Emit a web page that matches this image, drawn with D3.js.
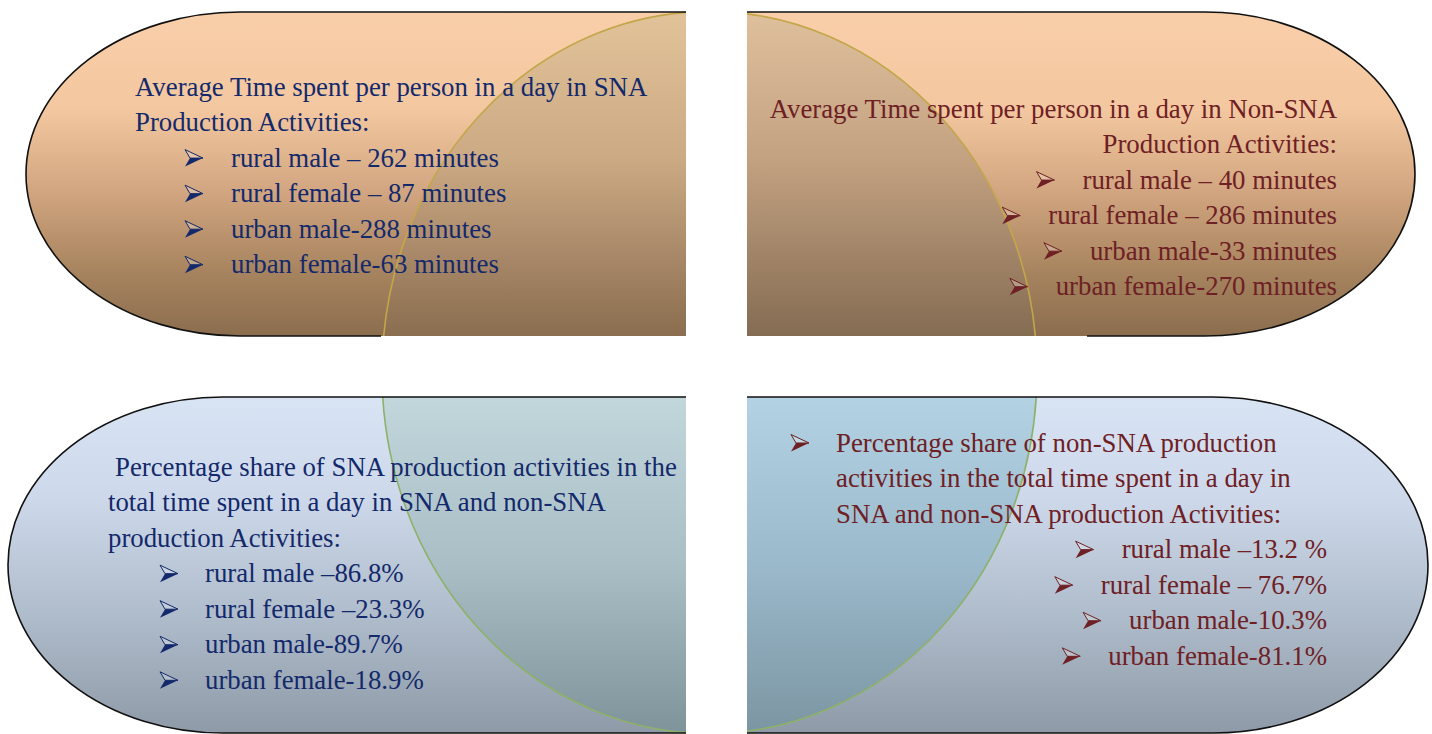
<!DOCTYPE html>
<html>
<head>
<meta charset="utf-8">
<script src="https://cdn.jsdelivr.net/npm/d3@7"></script>
<style>
  html, body { margin: 0; padding: 0; background: #fff; overflow: hidden; }
  text { font-family: "Liberation Serif", "Times New Roman", serif; }
</style>
</head>
<body>
<svg id="chart" width="1432" height="734"></svg>
<script>
// data
const categories = ["rural male", "rural female", "urban male", "urban female"];
const snaMinutes = [262, 87, 288, 63];
const nonSnaMinutes = [40, 286, 33, 270];
const snaShare = [86.8, 23.3, 89.7, 18.9];
const nonSnaShare = [13.2, 76.7, 10.3, 81.1];

// separators / units exactly as typed in the original
const snaMinuteSeps = [" – ", " – ", "-", "-"];
const nonSnaMinuteSeps = [" – ", " – ", "-", "-"];
const snaShareSeps = [" –", " –", "-", "-"];
const nonSnaShareSeps = [" –", " – ", "-", "-"];
const nonSnaShareUnits = [" %", "%", "%", "%"];

const titleSnaMinutes = ["Average Time spent per person in a day in SNA", "Production Activities:"];
const titleNonSnaMinutes = ["Average Time spent per person in a day in Non-SNA", "Production Activities:"];
const titleSnaShare = ["Percentage share of SNA production activities in the", "total time spent in a day in SNA and non-SNA", "production Activities:"];
const titleNonSnaShare = ["Percentage share of non-SNA production", "activities in the total time spent in a day in", "SNA and non-SNA production Activities:"];

const svg = d3.select('#chart');
const defs = svg.append('defs');

const NAVY = '#13296b', MAROON = '#6e2024';
const FS = 26.8, LH = 35.55;

function vGrad(id, stops) {
  const g = defs.append('linearGradient').attr('id', id)
    .attr('x1', 0).attr('y1', 0).attr('x2', 0).attr('y2', 1);
  stops.forEach(s => g.append('stop').attr('offset', s[0]).attr('stop-color', s[1]));
}
vGrad('peach', [[0, '#f9cfaa'], [0.3, '#f3c79f'], [0.55, '#d2a680'], [0.8, '#a7845f'], [1, '#8b6d4e']]);
vGrad('sky', [[0, '#d8e4f4'], [0.3, '#cdd9ea'], [0.65, '#afbccb'], [1, '#8e9aa7']]);
vGrad('ovTL', [[0, '#e2c399'], [0.45, '#ccaa84'], [0.75, '#a88868'], [1, '#8a6e4f']]);
vGrad('ovTR', [[0, '#dfc09c'], [0.45, '#c3a281'], [0.75, '#a18468'], [1, '#846c52']]);
vGrad('ovBL', [[0, '#c2d7dc'], [0.5, '#a9bec5'], [1, '#7e939a']]);
vGrad('ovBR', [[0, '#b3d2e3'], [0.5, '#9ab9cb'], [1, '#7c95a2']]);

// half-stadium shapes
const quads = [
  { id: 'TL', x0: 26, x1: 686, y0: 12, y1: 336, rx: 214, side: 'left', fill: 'url(#peach)', cut: 381 },
  { id: 'TR', x0: 747, x1: 1415, y0: 12, y1: 336, rx: 210, side: 'right', fill: 'url(#peach)', cut: 1087 },
  { id: 'BL', x0: 8, x1: 686, y0: 397, y1: 733, rx: 215, side: 'left', fill: 'url(#sky)', cut: 686 },
  { id: 'BR', x0: 747, x1: 1428, y0: 397, y1: 733, rx: 215, side: 'right', fill: 'url(#sky)', cut: 747 }
];

function shapePath(q, closed) {
  const ry = (q.y1 - q.y0) / 2;
  let s;
  if (q.side === 'left') {
    const cx = q.x0 + q.rx;
    s = `M${q.x1},${q.y0}L${cx},${q.y0}A${q.rx},${ry} 0 0 0 ${cx},${q.y1}L${closed ? q.x1 : q.cut},${q.y1}`;
  } else {
    const cx = q.x1 - q.rx;
    s = `M${q.x0},${q.y0}L${cx},${q.y0}A${q.rx},${ry} 0 0 1 ${cx},${q.y1}L${closed ? q.x0 : q.cut},${q.y1}`;
  }
  return closed ? s + 'Z' : s;
}

svg.selectAll('path.shape').data(quads).enter().append('path')
  .attr('class', 'shape')
  .attr('d', q => shapePath(q, true))
  .attr('fill', q => q.fill);

// central ellipse, split into quadrants by the white cross
const ell = { cx: 709.5, cy: 372.5, rx: 327.5, ry: 361 };
const clipRects = {
  TL: [0, 0, 686, 336], TR: [747, 0, 700, 336],
  BL: [0, 397, 686, 340], BR: [747, 397, 700, 340]
};
Object.entries(clipRects).forEach(([k, r]) => {
  defs.append('clipPath').attr('id', 'clip' + k).append('rect')
    .attr('x', r[0]).attr('y', r[1]).attr('width', r[2]).attr('height', r[3]);
});
const ovColors = { TL: '#c3a64a', TR: '#c3a64a', BL: '#8db169', BR: '#8db169' };
Object.keys(clipRects).forEach(k => {
  const g = svg.append('g').attr('clip-path', `url(#clip${k})`);
  // gradient box sized to the quadrant so the vertical stops line up
  defs.select('#ov' + k).attr('gradientUnits', 'userSpaceOnUse')
    .attr('x1', 0).attr('x2', 0)
    .attr('y1', k[0] === 'T' ? 12 : 397).attr('y2', k[0] === 'T' ? 336 : 733);
  g.append('ellipse')
    .attr('cx', ell.cx).attr('cy', ell.cy).attr('rx', ell.rx).attr('ry', ell.ry)
    .attr('fill', `url(#ov${k})`)
    .attr('stroke', ovColors[k]).attr('stroke-width', 1.6);
});

// borders
svg.selectAll('path.border').data(quads).enter().append('path')
  .attr('class', 'border')
  .attr('d', q => shapePath(q, false))
  .attr('fill', 'none').attr('stroke', '#111').attr('stroke-width', 1.6);

// 3D arrowhead bullet
function arrow(g, x, base, color) {
  const t = base - 17, m = base - 8.5, b = base;
  g.append('path').attr('d', `M${x},${t}L${x + 18},${m}L${x + 5},${m}Z`)
    .attr('fill', 'rgba(255,255,255,0.25)').attr('stroke', color).attr('stroke-width', 1)
    .attr('stroke-linejoin', 'round');
  g.append('path').attr('d', `M${x + 5},${m}L${x + 18},${m}L${x},${b}Z`)
    .attr('fill', color);
}

function textLine(g, str, x, y, color, anchor) {
  return g.append('text').attr('x', x).attr('y', y)
    .attr('font-size', FS).attr('fill', color)
    .attr('text-anchor', anchor || 'start').text(str);
}

function itemStrings(vals, seps, units) {
  return categories.map((c, i) => c + seps[i] + vals[i] + units[i]);
}

const g = svg.append('g');

// top-left: SNA minutes
{
  const y = d3.scaleLinear().domain([0, 1]).range([95.5, 95.5 + LH]);
  titleSnaMinutes.forEach((t, i) => textLine(g, t, 135, y(i), NAVY));
  itemStrings(snaMinutes, snaMinuteSeps, [" minutes", " minutes", " minutes", " minutes"])
    .forEach((s, i) => {
      arrow(g, 185, y(i + 2), NAVY);
      textLine(g, s, 231, y(i + 2), NAVY);
    });
}

// top-right: non-SNA minutes (right aligned)
{
  const y = d3.scaleLinear().domain([0, 1]).range([117.5, 117.5 + LH]);
  const right = 1337;
  titleNonSnaMinutes.forEach((t, i) => textLine(g, t, right, y(i), MAROON, 'end'));
  itemStrings(nonSnaMinutes, nonSnaMinuteSeps, [" minutes", " minutes", " minutes", " minutes"])
    .forEach((s, i) => {
      const tx = textLine(g, s, right, y(i + 2), MAROON, 'end');
      const w = tx.node().getComputedTextLength();
      arrow(g, right - w - 46, y(i + 2), MAROON);
    });
}

// bottom-left: SNA share
{
  const y = d3.scaleLinear().domain([0, 1]).range([475.5, 475.5 + LH]);
  titleSnaShare.forEach((t, i) => textLine(g, t, i === 0 ? 115 : 108, y(i), NAVY));
  itemStrings(snaShare, snaShareSeps, ["%", "%", "%", "%"])
    .forEach((s, i) => {
      arrow(g, 160, y(i + 3), NAVY);
      textLine(g, s, 205, y(i + 3), NAVY);
    });
}

// bottom-right: non-SNA share
{
  const y = d3.scaleLinear().domain([0, 1]).range([451.5, 451.5 + LH]);
  arrow(g, 791, y(0), MAROON);
  titleNonSnaShare.forEach((t, i) => textLine(g, t, 836, y(i), MAROON));
  const right = 1327;
  itemStrings(nonSnaShare, nonSnaShareSeps, nonSnaShareUnits)
    .forEach((s, i) => {
      const tx = textLine(g, s, right, y(i + 3), MAROON, 'end');
      const w = tx.node().getComputedTextLength();
      arrow(g, right - w - 46, y(i + 3), MAROON);
    });
}
</script>
</body>
</html>
